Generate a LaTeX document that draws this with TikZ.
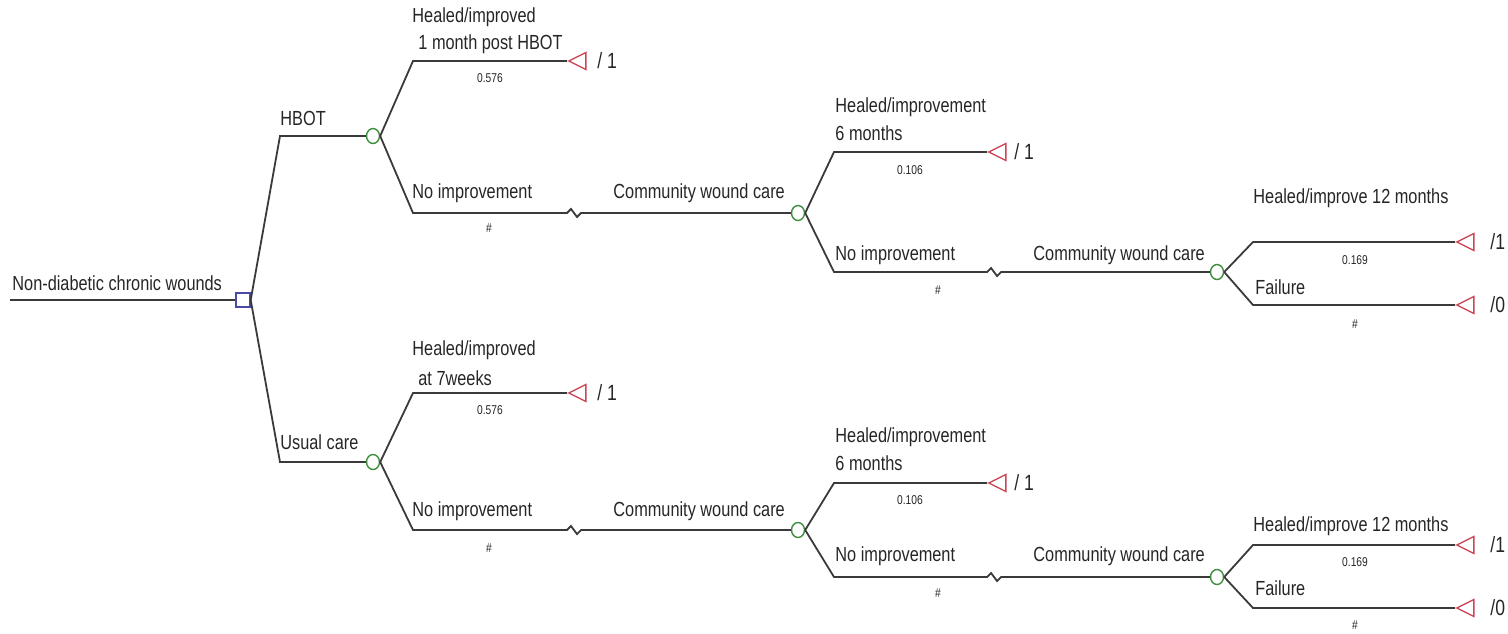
\documentclass[tikz,border=0pt]{standalone}
\usepackage{fontspec}
\setmainfont[FakeStretch=0.8]{Liberation Sans}
\usetikzlibrary{shapes.geometric}
\definecolor{linec}{HTML}{3A3A3A}
\definecolor{decc}{HTML}{4A4AA8}
\definecolor{chc}{HTML}{3E8E3E}
\definecolor{termc}{HTML}{C84858}
\tikzset{
  branch/.style={draw=linec, line width=0.9pt},
  decisionnode/.style={draw=decc, fill=white, rectangle, minimum size=7pt, inner sep=0pt, line width=0.7pt},
  chancenode/.style={draw=chc, fill=white, ellipse, minimum width=6.5pt, minimum height=7.5pt, inner sep=0pt, line width=0.7pt},
  termnode/.style={draw=termc, fill=white, isosceles triangle, isosceles triangle stretches, shape border rotate=180, minimum width=8.5pt, minimum height=8.5pt, inner sep=0pt, line width=0.7pt, anchor=apex},
  lbl/.style={inner sep=0pt, anchor=west, font=\fontsize{10.2}{12}\selectfont, text=black!85},
  prob/.style={inner sep=0pt, anchor=center, font=\fontsize{6.4}{8}\selectfont, text=black!85},
  payoff/.style={inner sep=0pt, anchor=west, font=\fontsize{11}{13}\selectfont, text=black!85}
}
\begin{document}
\begin{tikzpicture}[x=0.5pt,y=-0.5pt]
\useasboundingbox (0,0) rectangle (1508,633);

% ---------- nodes ----------
\coordinate (start) at (10,300);
\node[decisionnode] (root) at (243,300) {};
\node[chancenode] (c1) at (373,136) {};
\node[chancenode] (c2) at (373,462) {};
\node[chancenode] (c3) at (798,213) {};
\node[chancenode] (c4) at (1217,272) {};
\node[chancenode] (c5) at (798,530) {};
\node[chancenode] (c6) at (1217,577) {};

\node[termnode] (t1) at (567,61) {};
\node[termnode] (t2) at (987,152) {};
\node[termnode] (t3) at (1455,242) {};
\node[termnode] (t4) at (1455,305) {};
\node[termnode] (t5) at (567,393) {};
\node[termnode] (t6) at (987,483) {};
\node[termnode] (t7) at (1455,545) {};
\node[termnode] (t8) at (1455,608) {};

% bend coordinates
\coordinate (a1) at (280,136);
\coordinate (a2) at (280,462);
\coordinate (b1) at (413,61);
\coordinate (b2) at (413,213);
\coordinate (b3) at (413,393);
\coordinate (b4) at (413,530);
\coordinate (d1) at (834,152);
\coordinate (d2) at (834,272);
\coordinate (d3) at (834,483);
\coordinate (d4) at (834,577);
\coordinate (e1) at (1253,242);
\coordinate (e2) at (1253,305);
\coordinate (e3) at (1253,545);
\coordinate (e4) at (1253,608);
\coordinate (z1) at (567,213);
\coordinate (z2) at (987,272);
\coordinate (z3) at (567,530);
\coordinate (z4) at (987,577);

% ---------- connectors ----------
\draw[branch] (start) -- (root.west);
\draw[branch] (root.east) -- (a1) -- (c1.west);
\draw[branch] (root.east) -- (a2) -- (c2.west);

\draw[branch] (c1.east) -- (b1) -- (t1.apex);
\draw[branch] (c1.east) -- (b2) -- (z1) -- ++(4,-4) -- ++(6,8) -- ++(4,-4) -- (c3.west);
\draw[branch] (c3.east) -- (d1) -- (t2.apex);
\draw[branch] (c3.east) -- (d2) -- (z2) -- ++(4,-4) -- ++(6,8) -- ++(4,-4) -- (c4.west);
\draw[branch] (c4.east) -- (e1) -- (t3.apex);
\draw[branch] (c4.east) -- (e2) -- (t4.apex);

\draw[branch] (c2.east) -- (b3) -- (t5.apex);
\draw[branch] (c2.east) -- (b4) -- (z3) -- ++(4,-4) -- ++(6,8) -- ++(4,-4) -- (c5.west);
\draw[branch] (c5.east) -- (d3) -- (t6.apex);
\draw[branch] (c5.east) -- (d4) -- (z4) -- ++(4,-4) -- ++(6,8) -- ++(4,-4) -- (c6.west);
\draw[branch] (c6.east) -- (e3) -- (t7.apex);
\draw[branch] (c6.east) -- (e4) -- (t8.apex);

% ---------- labels ----------
\node[lbl] (l0) at (12,283) {Non-diabetic chronic wounds};
\node[lbl] (l1) at (280,118) {HBOT};
\node[lbl] (l2) at (280,442) {Usual care};

\node[lbl] (l3) at (412,17) {Healed/improved};
\node[lbl] (l4) at (418,44) {1 month post HBOT};
\node[prob] (p1) at (490,78) {0.576};
\node[payoff] (v1) at (597,61) {/ 1};
\node[lbl] (l5) at (412,193) {No improvement};
\node[prob] (p2) at (489,228) {\#};
\node[lbl] (l6) at (613,193) {Community wound care};

\node[lbl] (l7) at (835,107) {Healed/improvement};
\node[lbl] (l8) at (835,133) {6 months};
\node[prob] (p3) at (910,170) {0.106};
\node[payoff] (v2) at (1014,152) {/ 1};
\node[lbl] (l9) at (835,255) {No improvement};
\node[prob] (p4) at (938,290) {\#};
\node[lbl] (l10) at (1033,255) {Community wound care};

\node[lbl] (l11) at (1253,198) {Healed/improve 12 months};
\node[prob] (p5) at (1355,260) {0.169};
\node[payoff] (v3) at (1490,242) {/1};
\node[lbl] (l12) at (1255,287) {Failure};
\node[prob] (p6) at (1355,324) {\#};
\node[payoff] (v4) at (1490,305) {/0};

\node[lbl] (l13) at (412,350) {Healed/improved};
\node[lbl] (l14) at (418,378) {at 7weeks};
\node[prob] (p7) at (490,410) {0.576};
\node[payoff] (v5) at (597,393) {/ 1};
\node[lbl] (l15) at (412,511) {No improvement};
\node[prob] (p8) at (489,548) {\#};
\node[lbl] (l16) at (613,511) {Community wound care};

\node[lbl] (l17) at (835,437) {Healed/improvement};
\node[lbl] (l18) at (835,463) {6 months};
\node[prob] (p9) at (910,500) {0.106};
\node[payoff] (v6) at (1014,483) {/ 1};
\node[lbl] (l19) at (835,556) {No improvement};
\node[prob] (p10) at (938,593) {\#};
\node[lbl] (l20) at (1033,556) {Community wound care};

\node[lbl] (l21) at (1253,526) {Healed/improve 12 months};
\node[prob] (p11) at (1355,562) {0.169};
\node[payoff] (v7) at (1490,545) {/1};
\node[lbl] (l22) at (1255,588) {Failure};
\node[prob] (p12) at (1355,625) {\#};
\node[payoff] (v8) at (1490,608) {/0};
\end{tikzpicture}
\end{document}
